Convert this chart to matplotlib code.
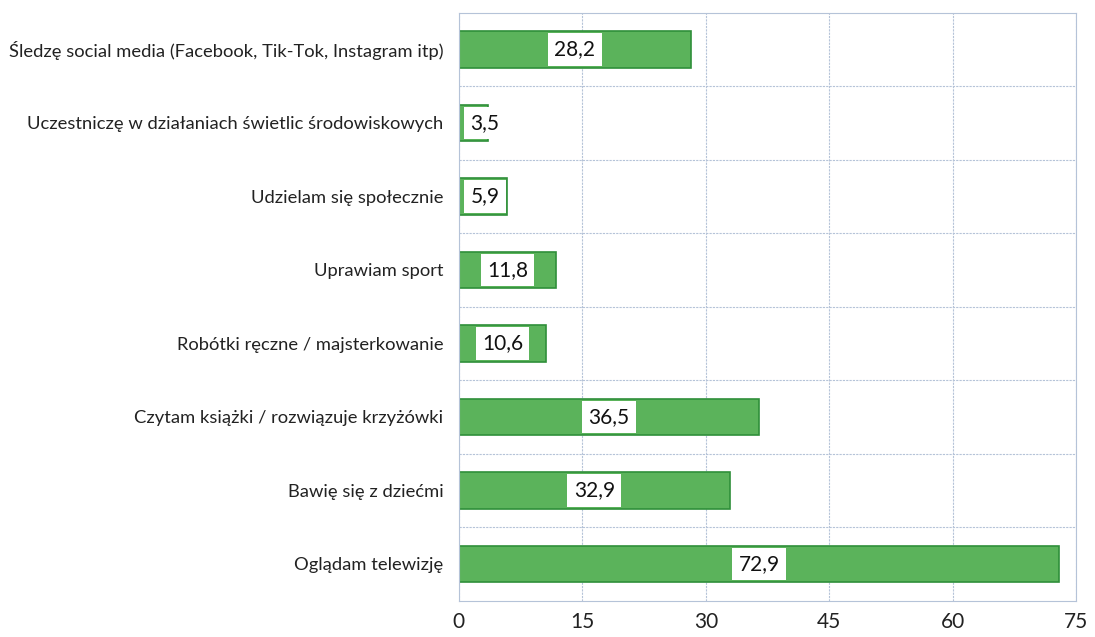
import matplotlib.pyplot as plt

categories = [
    "Śledzę social media (Facebook, Tik-Tok, Instagram itp)",
    "Uczestniczę w działaniach świetlic środowiskowych",
    "Udzielam się społecznie",
    "Uprawiam sport",
    "Robótki ręczne / majsterkowanie",
    "Czytam książki / rozwiązuje krzyżówki",
    "Bawię się z dziećmi",
    "Oglądam telewizję",
]
values = [28.2, 3.5, 5.9, 11.8, 10.6, 36.5, 32.9, 72.9]
ticks = [0, 15, 30, 45, 60, 75]


def main():
    plt.rcParams["font.family"] = ["Lato", "DejaVu Sans"]
    fig = plt.figure(figsize=(10.95, 6.37), dpi=100)
    ax = fig.add_axes([0.419, 0.057, 0.564, 0.923])

    y = list(range(len(categories)))
    ax.barh(y, values, height=0.5, color="#5bb35b", edgecolor="#2f8f3a", linewidth=1.2)

    for yi, v in zip(y, values):
        ax.text(max(v / 2, 3.2), yi, f"{v:.1f}".replace(".", ","),
                ha="center", va="center", fontsize=15, color="#111111",
                bbox=dict(boxstyle="square,pad=0.3", fc="white", ec="none"))

    ax.set_ylim(len(categories) - 0.5, -0.5)
    ax.set_xlim(0, 75)
    ax.set_yticks(y)
    ax.set_yticklabels(categories, fontsize=13.2, color="#222222")
    ax.set_xticks(ticks)
    ax.set_xticklabels([str(t) for t in ticks], fontsize=15, color="#222222")
    ax.tick_params(axis="both", length=0)
    ax.tick_params(axis="x", pad=8)
    ax.tick_params(axis="y", pad=11)

    ax.set_yticks([i + 0.5 for i in range(len(categories) - 1)], minor=True)
    ax.grid(axis="x", color="#b5c3d8", linestyle=(0, (2, 1)), linewidth=0.8)
    ax.grid(axis="y", which="minor", color="#b5c3d8", linestyle=(0, (2, 1)), linewidth=0.8)
    ax.tick_params(axis="y", which="minor", length=0)
    ax.set_axisbelow(True)
    for s in ax.spines.values():
        s.set_color("#b5c3d8")
        s.set_linestyle((0, (2, 1)))
        s.set_linewidth(0.8)

    fig.savefig("out.png")


if __name__ == "__main__":
    main()
